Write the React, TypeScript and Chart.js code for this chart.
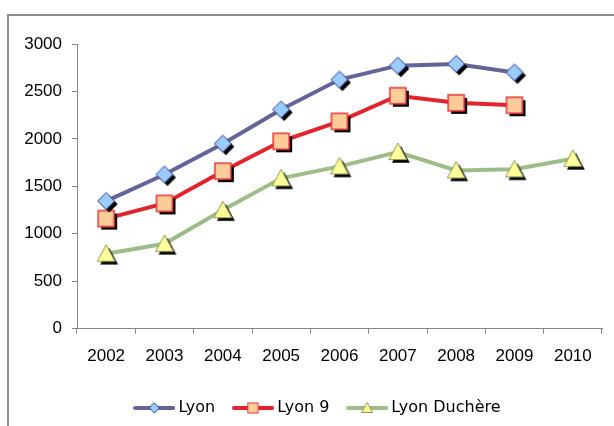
import React, { useEffect, useRef } from "react";
import { Chart, registerables } from "chart.js";

Chart.register(...registerables);

const years = ["2002", "2003", "2004", "2005", "2006", "2007", "2008", "2009", "2010"];
const lyon = [1345, 1625, 1950, 2310, 2625, 2772, 2790, 2700, null];
const lyon9 = [1160, 1320, 1660, 1975, 2185, 2455, 2380, 2355, null];
const duchere = [790, 895, 1250, 1585, 1710, 1862, 1668, 1680, 1790];
const seriesNames = ["Lyon", "Lyon 9", "Lyon Duchère"];
const yTicks = [0, 500, 1000, 1500, 2000, 2500, 3000];

type Kind = "diamond" | "square" | "triangle";

function shapePath(ctx: CanvasRenderingContext2D, kind: Kind, cx: number, cy: number, s: number) {
  ctx.beginPath();
  if (kind === "diamond") {
    ctx.moveTo(cx, cy - s);
    ctx.lineTo(cx + s, cy);
    ctx.lineTo(cx, cy + s);
    ctx.lineTo(cx - s, cy);
  } else if (kind === "square") {
    ctx.rect(cx - s, cy - s, 2 * s, 2 * s);
  } else {
    ctx.moveTo(cx, cy - s * 1.05);
    ctx.lineTo(cx + s * 1.05, cy + s * 0.9);
    ctx.lineTo(cx - s * 1.05, cy + s * 0.9);
  }
  ctx.closePath();
}

function makeMarker(kind: Kind, s: number, fill: string, stroke: string, lw: number) {
  const c = document.createElement("canvas");
  c.width = 32;
  c.height = 32;
  const ctx = c.getContext("2d")!;
  shapePath(ctx, kind, 16 + 3, 16 + 3, s);
  ctx.fillStyle = "#000";
  ctx.fill();
  shapePath(ctx, kind, 16, 16, s);
  ctx.fillStyle = fill;
  ctx.fill();
  ctx.strokeStyle = stroke;
  ctx.lineWidth = lw;
  ctx.stroke();
  return c;
}

function makeLegendIcon(kind: Kind, s: number, line: string, fill: string, stroke: string) {
  const c = document.createElement("canvas");
  c.width = 42;
  c.height = 16;
  const ctx = c.getContext("2d")!;
  ctx.strokeStyle = line;
  ctx.lineWidth = 4;
  ctx.lineCap = "round";
  ctx.beginPath();
  ctx.moveTo(2, 8);
  ctx.lineTo(40, 8);
  ctx.stroke();
  shapePath(ctx, kind, 21, 8, s);
  ctx.fillStyle = fill;
  ctx.fill();
  ctx.strokeStyle = stroke;
  ctx.lineWidth = 1;
  ctx.stroke();
  return c;
}

const legendShift = {
  id: "legendShift",
  afterLayout(chart: any) {
    const lg = chart.legend;
    if (lg) {
      lg.left += 15.5;
      lg.right += 15.5;
    }
  },
};

export default function App() {
  const ref = useRef<HTMLCanvasElement>(null);

  useEffect(() => {
    if (!ref.current) return;
    const lineColors = ["#646499", "#e2252c", "#9dbd88"];
    const fills = ["#99ccff", "#ffcc99", "#ffff99"];
    const strokes = ["#3a3a8c", "#e8353b", "#8d9a55"];
    const kinds: Kind[] = ["diamond", "square", "triangle"];
    const sizes = [8.5, 8, 8.5];
    const markers = kinds.map((k, i) => makeMarker(k, sizes[i], fills[i], strokes[i], k === "square" ? 1.5 : 1));
    const legendIcons = kinds.map((k, i) => makeLegendIcon(k, 5, lineColors[i], fills[i], strokes[i]));
    const allData = [lyon, lyon9, duchere];

    const chart = new Chart(ref.current, {
      type: "line",
      data: {
        labels: years,
        datasets: allData.map((d, i) => ({
          label: seriesNames[i],
          data: d,
          borderColor: lineColors[i],
          backgroundColor: lineColors[i],
          borderWidth: 4,
          tension: 0,
          pointStyle: markers[i],
          pointRadius: 8,
          pointHoverRadius: 8,
          spanGaps: false,
        })),
      },
      plugins: [legendShift],
      options: {
        responsive: false,
        animation: false,
        layout: { padding: { left: 0, right: 6, top: 44, bottom: 0 } },
        plugins: {
          tooltip: { enabled: false },
          legend: {
            position: "bottom",
            labels: {
              usePointStyle: true,
              pointStyleWidth: 32,
              padding: 22,
              color: "#000",
              font: { family: "DejaVu Sans", size: 16 },
              generateLabels: () =>
                seriesNames.map((n, i) => ({
                  text: n,
                  pointStyle: legendIcons[i],
                  fillStyle: "transparent",
                  strokeStyle: "transparent",
                  lineWidth: 0,
                  hidden: false,
                  datasetIndex: i,
                  fontColor: "#000",
                })),
            },
          },
        },
        scales: {
          x: {
            offset: true,
            afterFit: (s: any) => {
              s.height = 49.3;
            },
            grid: {
              offset: true,
              drawOnChartArea: false,
              drawTicks: true,
              tickLength: 5,
              color: "#878787",
            },
            border: { display: true, color: "#878787", width: 1 },
            ticks: {
              padding: 12,
              color: "#000",
              font: { family: "'Liberation Sans', Arial, sans-serif", size: 17 },
              maxRotation: 0,
            },
          },
          y: {
            min: 0,
            max: 3000,
            afterFit: (s: any) => {
              s.width = 77;
            },
            afterBuildTicks: (s: any) => {
              s.ticks = yTicks.map((v) => ({ value: v }));
            },
            grid: {
              drawOnChartArea: false,
              drawTicks: true,
              tickLength: 5,
              color: "#878787",
            },
            border: { display: true, color: "#878787", width: 1 },
            ticks: {
              padding: 10,
              color: "#000",
              font: { family: "'Liberation Sans', Arial, sans-serif", size: 17 },
              callback: (v: any) => String(v),
            },
          },
        },
      },
    });
    return () => chart.destroy();
  }, []);

  return (
    <div
      style={{
        position: "absolute",
        left: 0,
        top: 0,
        width: 614,
        height: 426,
        overflow: "hidden",
        background: "#fff",
      }}
    >
      <div
        style={{
          position: "absolute",
          left: 7,
          top: 14,
          width: 700,
          height: 500,
          border: "2px solid #8c8c8c",
        }}
      />
      <canvas ref={ref} width={614} height={426} style={{ position: "absolute", left: 0, top: 0 }} />
    </div>
  );
}
